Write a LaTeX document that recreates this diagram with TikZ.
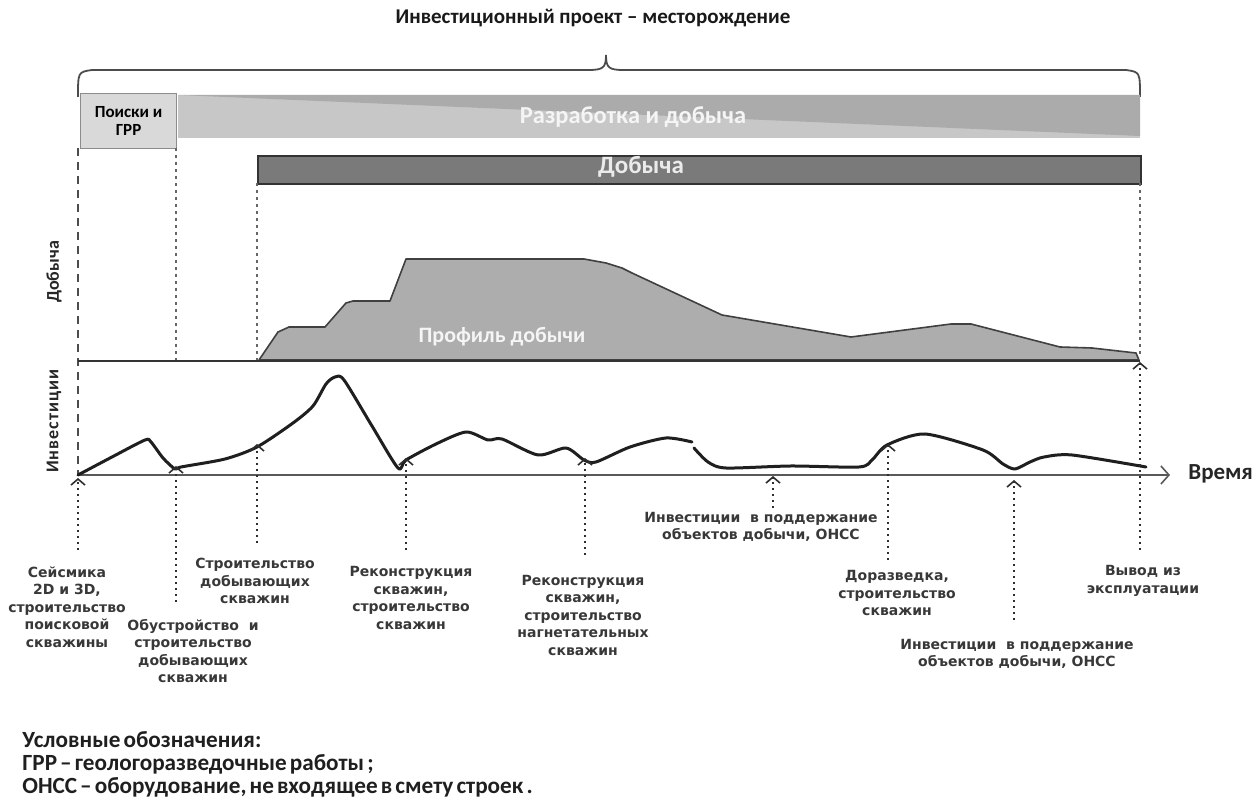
\documentclass[tikz,border=0pt]{standalone}
\usepackage{fontspec}
\setmainfont{Carlito}
\newfontfamily\labfont{DejaVu Sans}
\newfontfamily\legfont[WordSpace=0.6]{Carlito}
\usetikzlibrary{arrows.meta}
\definecolor{txtgray}{gray}{0.22}
\tikzset{
  lbl/.style={font=\labfont\bfseries\fontsize{7}{8.75}\selectfont, align=center, text=txtgray, inner sep=0pt},
  uparr/.style={line width=1pt, draw=black!82, dash pattern=on 1pt off 2pt,
     -{Straight Barb[length=3pt,width=7pt,line width=0.8pt]}},
  vthin/.style={line width=0.6pt, draw=black!60, dash pattern=on 1.5pt off 2pt},
  vdash/.style={line width=0.9pt, draw=black!70, dash pattern=on 4pt off 3pt},
  curve/.style={line width=1.5pt, draw=black!88, line join=round, line cap=round},
  head/.style={font=\bfseries\fontsize{10.5}{12}\selectfont, text=black!90},
}
\begin{document}
\begin{tikzpicture}[x=0.5pt,y=-0.5pt]
\useasboundingbox (0,0) rectangle (1260,801);

% title and brace
\node[head] (title) at (593,18) {Инвестиционный проект – месторождение};
\draw[line width=0.9pt, draw=black!70] (78,97) .. controls (78,72) .. (92,70) -- (588,70)
   .. controls (603,70) and (606,68) .. (606,55) .. controls (606,68) and (609,70) .. (624,70)
   -- (1126,70) .. controls (1140,72) .. (1140,97);

% phase band
\fill[black!22] (178,95) rectangle (1140,138);
\fill[black!33] (178,95) -- (1140,95) -- (1140,136) -- cycle;
\node[font=\bfseries\fontsize{12.2}{13}\selectfont, text=white!96!black] (razr) at (633,117) {Разработка и добыча};
\node[draw=black!45, fill=black!15, line width=0.6pt, anchor=north west, minimum width=48pt, minimum height=27.5pt,
      align=center, inner sep=0pt, font=\bfseries\fontsize{8.5}{9}\selectfont] (poiski) at (80,93) {Поиски и\\ГРР};
\node[draw=black!80, fill=black!52, line width=1pt, anchor=north west, minimum width=441.5pt, minimum height=14pt,
      inner sep=0pt] (dobbar) at (257,155) {};
\node[text=white!92!black, font=\bfseries\fontsize{12.5}{13}\selectfont, inner sep=0pt] (dobtxt) at (641,167) {Добыча};

% vertical guides
\coordinate (g1a) at (78,148);  \coordinate (g1b) at (78,475);
\coordinate (g2a) at (176,148); \coordinate (g2b) at (176,360);
\coordinate (g3a) at (257,183); \coordinate (g3b) at (257,360);
\coordinate (g4a) at (1140,183); \coordinate (g4b) at (1140,354);
\draw[vdash] (g1a) -- (g1b);
\draw[vthin] (g2a) -- (g2b);
\draw[vthin] (g3a) -- (g3b);
\draw[vthin] (g4a) -- (g4b);

% axis labels
\node[rotate=90, font=\bfseries\fontsize{9}{10}\selectfont, text=black!85] (ylab1) at (54,272) {Добыча};
\node[rotate=90, font=\bfseries\fontsize{9}{10}\selectfont\addfontfeature{LetterSpace=6}, text=black!85] (ylab2) at (54,421) {Инвестиции};

% production profile
\filldraw[fill=black!32, draw=black!75, line width=0.8pt, line join=round]
  (259,360) -- (278,332) -- (289,327) -- (325,327) -- (346,303) -- (353,301) -- (390,301) -- (406,259)
  -- (584,259) -- (606,263) -- (622,268) -- (632,273) -- (722,315) -- (851,337) -- (951,324) -- (971,324)
  -- (1060,347) -- (1092,348) -- (1136,353) -- (1139,360) -- cycle;
\draw[line width=1pt, draw=black!80] (78,361) -- (1140,361);
\node[font=\bfseries\fontsize{11}{12}\selectfont, text=white!96!black] (profil) at (502,337) {Профиль добычи};

% time axis
\coordinate (ax0) at (78,475);
\node[font=\bfseries\fontsize{11.5}{13}\selectfont, text=black!85, anchor=west, inner sep=0pt] (vremya) at (1188,474) {Время};
\draw[line width=0.8pt, draw=black!65, -{Straight Barb[length=4pt,width=9pt,line width=0.8pt]}] (ax0) -- ([xshift=-9pt]vremya.west |- ax0);

% investment curve
\draw[curve] plot[smooth, tension=0.45] coordinates {
  (78,475) (112,457) (145,440) (151,442) (163,458) (175,469) (181,467) (225,459) (257,447) (293,423) (313,406)
  (326,384) (335,377) (344,380) (372,426) (398,468) (406,460) (436,444) (466,432) (488,440) (502,439) (538,455)
  (566,448) (584,460) (596,462) (630,447) (666,438) (692,442)};
\draw[curve] plot[smooth, tension=0.45] coordinates {
  (694,448) (708,462) (726,468) (791,466) (859,467) (872,460) (887,445) (925,434) (983,450) (1003,464) (1015,469)
  (1030,462) (1044,457) (1072,455) (1146,467)};

% event arrows and labels
\coordinate (t1) at (78,478);   \coordinate (b1) at (78,550);
\coordinate (t2) at (176,466);  \coordinate (b2) at (176,602);
\coordinate (t3) at (257,444);  \coordinate (b3) at (257,543);
\coordinate (t4) at (406,458);  \coordinate (b4) at (406,550);
\coordinate (t5) at (585,458);  \coordinate (b5) at (585,555);
\coordinate (t6) at (773,476);  \coordinate (b6) at (773,508);
\coordinate (t7) at (888,444);  \coordinate (b7) at (888,560);
\coordinate (t8) at (1014,480); \coordinate (b8) at (1014,620);
\coordinate (t9) at (1140,362); \coordinate (b9) at (1140,550);
\foreach \i in {1,...,9} { \draw[uparr] (b\i) -- (t\i); }

\node[lbl] (l1) at (67,607) {Сейсмика\\2D и 3D,\\строительство\\поисковой\\скважины};
\node[lbl] (l2) at (193,651) {Обустройство\ \ и\\строительство\\добывающих\\скважин};
\node[lbl] (l3) at (255,581) {Строительство\\добывающих\\скважин};
\node[lbl] (l4) at (411,598) {Реконструкция\\скважин,\\строительство\\скважин};
\node[lbl] (l5) at (583,615) {Реконструкция\\скважин,\\строительство\\нагнетательных\\скважин};
\node[lbl] (l6) at (761,527) {Инвестиции\ \ в поддержание\\объектов добычи, ОНСС};
\node[lbl] (l7) at (897,593) {Доразведка,\\строительство\\скважин};
\node[lbl] (l8) at (1017,654) {Инвестиции\ \ в поддержание\\объектов добычи, ОНСС};
\node[lbl] (l9) at (1143,581) {Вывод из\\эксплуатации};

% legend
\node[anchor=north west, align=left, inner sep=0pt, text=black!88,
      font=\legfont\bfseries\fontsize{11.6}{11.5}\selectfont] (legend) at (22,731)
  {Условные обозначения:\\ГРР – геологоразведочные работы ;\\ОНСС – оборудование, не входящее в смету строек .};
\end{tikzpicture}
\end{document}
